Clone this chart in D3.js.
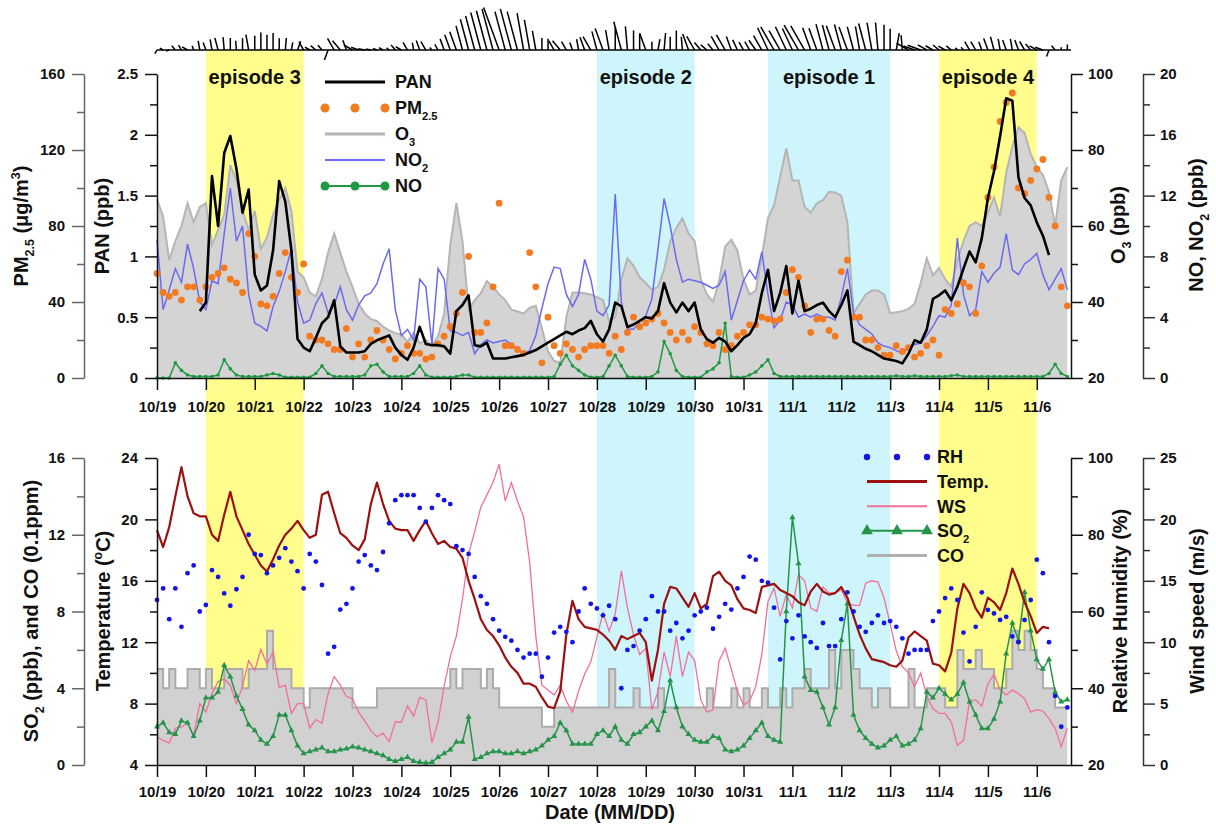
<!DOCTYPE html>
<html>
<head>
<meta charset="utf-8">
<script src="https://cdn.jsdelivr.net/npm/d3@7"></script>
<style>
  body { margin: 0; background: #fff; }
  text { font-family: Arial, "Liberation Sans", sans-serif; font-weight: bold; }
</style>
</head>
<body>
<svg id="chart" width="1216" height="830"></svg>
<script>
// samples every 3 h, time in days since 10/19 00:00
const step = 0.125;
const dayLabels = ["10/19","10/20","10/21","10/22","10/23","10/24","10/25","10/26","10/27","10/28",
                   "10/29","10/30","10/31","11/1","11/2","11/3","11/4","11/5","11/6"];

const episodeNames = ["episode 3", "episode 2", "episode 1", "episode 4"];
const episodeStart = [1, 9, 12.5, 16];
const episodeEnd = [3, 11, 15, 18];
const episodeKind = ["haze", "clean", "clean", "haze"];

// ---- upper panel ----
const o3Vals = [67,62.5,51,56,60,66,61,65, 66,55,59,63,76,72,64,59, 64,54,57,63,67,70,64,48,
  46.5,42.5,41.5,46,53,58,53,48, 44,39.5,37,35.5,35,33.5,32.5,31.8, 31.5,29.5,31.8,29.2,30,28.5,31,37,
  55,66,56,38,40.5,42.3,45.5,44, 42,40.5,38,37.5,37,38.5,39,33, 27,24.5,24,36,42.5,42.5,42.3,42,
  41.3,40.5,35,36,46,51.5,49.5,46.5, 45,43.2,44,48.5,56,59.5,62,58, 56,46,42,40,45.5,54.6,56.4,53.5,
  46,42,43,52,62,65.5,73,80.5, 72,72,65,63.5,66,66.8,69,68.8, 68,61,37.1,39.5,42,43,43,42,
  37.1,37.3,37.6,38.2,39.5,45,51.5,47, 49,46,44,51,56,60,61,60, 63.5,67.5,62.5,74,81,86,84.5,79,
  75.5,73.5,69,60,72,75.5];

const no2Vals = [9.1,4.5,5.8,7.2,6.3,8.8,7.2,5, 4.5,6.4,6.2,9.5,12.5,9,10,5.5, 3.6,3.4,3.1,4.7,5.7,7,8.5,5,
  3.6,3.8,4.9,5.6,4.3,4.8,6,4.5, 3.8,4.8,5.4,5.6,6.2,7.5,8.5,4.5, 2.8,3.2,2.5,6.5,6,2.2,7.2,6.5,
  3.1,3,2.8,3,1.6,2.2,2.5,2.3, 2.4,2.5,2.2,1.9,1.6,1.8,2.8,4.6, 6.2,7.3,7.2,5.5,4.7,5.5,7.8,6.5,
  4.4,4.1,4.8,12.1,5,3.2,3.2,3.7, 4.1,5.2,8.5,11.8,10,7.8,6.3,6.5, 6.4,6.3,6.1,5.9,6.1,7,3.8,5.1,
  6.4,7.1,6.5,8.3,5.5,3.3,3.8,5, 4.8,4,4.2,4,4.2,4,4,3.8, 5.3,7.2,4.3,3.5,3.2,2.9,2.3,2.1,
  2,1.8,1.6,2,2.2,2.3,2.8,3.4, 4.1,4,4.8,9.2,5.5,4.1,4.5,7, 6.3,6.9,7.3,9.5,7.1,6.8,7.5,7.8,
  8.2,6.8,5.8,6.5,7.2,5.8];

const noVals = [0,0,0,1.0,0.5,0.2,0.1,0.1, 0.1,0.1,0.2,1.2,0.6,0.2,0.1,0.1, 0.1,0.1,0.2,0.3,0.2,0.05,0.05,0.05,
  0.05,0.05,0.3,0.8,0.3,0.1,0.1,0.1, 0.1,0.1,0.2,0.8,0.9,0.4,0.1,0.1, 0.1,0.1,0.3,0.8,0.2,0.05,0.05,0.05,
  0.05,0.1,0.2,0.2,0.05,0.05,0.05,0.05, 0.05,0.05,0.05,0.05,0.05,0.05,0.05,0.05, 0.05,0.1,0.9,1.5,0.8,0.5,0.2,0.05,
  0.05,0.1,0.8,1.5,0.8,0.1,0.05,0.05, 0.05,0.1,0.4,2.4,1.6,0.5,0.1,0.05, 0.05,0.05,0.4,0.6,1.0,3.6,0.1,0.05,
  0.05,0.2,0.4,0.8,1.2,0.3,0.1,0.1, 0.1,0.1,0.1,0.1,0.1,0.1,0.1,0.1, 0.1,0.1,0.1,0.1,0.1,0.1,0.1,0.1,
  0.1,0.15,0.1,0.1,0.15,0.1,0.1,0.1, 0.1,0.1,0.15,0.2,0.1,0.1,0.1,0.1, 0.1,0.1,0.1,0.1,0.1,0.1,0.1,0.1,
  0.1,0.1,0.3,0.9,0.3,0.1];

const panStart = 7;
const panVals = [0.55, 0.62,1.66,1.25,1.85,1.99,1.72,1.36,1.55, 0.85,0.72,0.76,1.05,1.62,1.45,1.05,0.32,
  0.25,0.22,0.33,0.45,0.5,0.64,0.26,0.21, 0.21,0.21,0.22,0.28,0.31,0.33,0.35,0.25,
  0.19,0.15,0.25,0.42,0.28,0.27,0.27,0.26, 0.2,0.55,0.6,0.68,0.27,0.26,0.29,0.16,
  0.16,0.16,0.17,0.18,0.19,0.21,0.23,0.26, 0.29,0.32,0.35,0.38,0.36,0.39,0.41,0.47,
  0.36,0.3,0.4,0.62,0.59,0.42,0.44,0.47, 0.5,0.49,0.55,0.78,0.62,0.54,0.62,0.55,
  0.62,0.4,0.32,0.29,0.33,0.3,0.22,0.27, 0.33,0.36,0.45,0.7,0.89,0.55,0.7,0.92,
  0.53,0.8,0.55,0.57,0.6,0.62,0.55,0.5, 0.6,0.72,0.3,0.27,0.24,0.22,0.19,0.16,
  0.15,0.14,0.12,0.2,0.31,0.29,0.4,0.65, 0.68,0.72,0.64,0.75,0.9,1.04,0.95,1.15,
  1.48,1.7,1.99,2.3,2.28,1.65,1.48,1.42, 1.28,1.17,1.01];

const pmVals = [55,45,43,45,41,48,48,41, 48,53,55,58,52,50,45,76, 64,39,38,43,55,66,53,45,
  60,22,20,20,18,15,15,26, 11,18,11,20,25,20,15,10, 13,17,13,13,10,11,18,22,
  27,34,45,64,24,24,29,48, 92,17,17,15,13,66,48,8, 32,17,13,18,15,11,15,17,
  17,17,13,22,15,24,32,27, 29,31,34,29,24,20,24,20, 27,24,18,17,24,15,17,22,
  24,28,28,32,31,30,31,45, 57,53,38,24,31,31,25,22, 56,62,32,32,20,20,16,12,
  12,17,14,16,11,13,17,20, 12,36,34,39,50,48,34,59, 95,111,135,145,150,100,97,104,
  110,115,95,80,48,38];

// ---- lower panel ----
const tempVals = [19.3,18.2,19.5,21.5,23.4,21.5,20.4,20.2, 20.2,19.0,18.6,20.3,21.8,20.2,19.3,18.4,
  17.7,17.0,16.6,17.4,18.3,19.0,19.4,19.9, 19.3,18.8,19.0,21.6,21.8,20.4,19.1,18.8,
  18.3,18.0,18.7,21.0,22.4,21.0,19.9,19.4, 19.3,19.3,18.6,19.3,19.9,19.1,18.4,18.6,
  18.2,18.1,17.5,16.0,14.8,13.5,12.8,12.4, 11.8,11.0,10.4,10.0,9.3,9.3,9.1,8.4,
  7.8,7.7,8.8,12.5,14.7,13.5,13.0,12.9, 12.8,12.5,12.1,11.5,12.4,12.2,12.4,12.6,
  12.0,9.5,11.5,14.5,15.6,15.5,14.9,14.3, 15.2,14.2,14.5,16.3,16.6,16.0,15.7,14.8,
  14.2,14.1,13.9,15.6,15.7,15.8,15.4,15.2, 15.0,14.6,14.4,15.3,15.8,15.3,15.1,15.2,
  15.6,14.9,13.7,12.5,11.6,10.9,10.8,10.7, 10.5,10.4,10.8,12.3,12.7,12.4,12.1,10.6,
  10.5,10.1,11.3,14.2,15.8,15.2,14.2,13.6, 14.9,14.6,14.1,15.2,16.8,15.8,14.6,13.7,
  12.6,13.0,12.9];

const rhVals = [63,66,58,66,56,70,72,60, 61.7,70.8,69,64.7,61.5,65.8,69,80, 75,74.7,70,72,74,76.5,73,70.5,
  66,75,73,66.9,49,50.8,60.5,62, 66,73,74.7,72,70.8,75.5,83,89, 90.3,90.3,90.3,87,83.4,87,90.3,89,
  88,77,76,75,69,64,62,58, 55,53.4,52.4,50,48,49,49,43, 48,54.5,56,54.7,52,60,66,62,
  60.8,59,61.5,58,40,50,51,55, 58,64,60,60,55,57,53,55, 59,60,61,55.5,58.6,62,60.5,66,
  69,74.3,73.5,68,67.5,61,47.5,57.5, 53,59,53.5,52,50.5,57,51,51, 58,65,60,56,54.7,57,59,57,
  57.5,56,53,49,50,50,50,57.5, 60,63.5,66,63,54.5,47,56,65, 60.4,59.5,57.8,58.6,53.5,52,57.8,63,
  73.5,70,52,38,30,35];

const wsVals = [2.3,2.0,1.8,3.0,3.1,3.4,2.4,5.0, 4.3,5.8,6.8,7.0,6.5,5.0,6.4,8.5, 7.7,9.4,8.2,9.2,6.3,6.5,4.2,5.0,
  5.0,3.0,3.7,3.4,5.8,7.2,6.5,5.6, 5.4,4.3,3.6,2.8,2.3,2.6,1.9,3.5, 3.5,4.8,4.0,5.5,5.3,1.8,3.5,6.4,
  8.8,10.5,13.5,17.2,19.0,21.0,22.0,23.0, 24.5,21.5,23.0,21.5,20.2,16.5,10.5,6.5, 6.1,5.7,6.5,5.2,4.3,6.0,7.4,8.4,
  10.4,12.4,10.9,12.3,15.8,12.8,10.6,9.0, 9.5,4.5,6.0,9.2,7.2,10.5,7.2,9.2, 8.5,5.3,4.3,4.5,8.5,9.5,7.8,6.0,
  4.9,5.2,6.4,9.0,13.3,14.4,12.1,13.9, 12.8,15.5,15.0,12.8,12.5,14.5,14.0,14.0, 14.3,13.2,13.0,13.0,14.8,15.0,14.9,13.6,
  11.5,9.3,8.0,7.5,6.4,7.5,5.6,4.6, 4.2,4.2,3.5,1.6,2.0,5.2,5.3,4.8, 6.6,7.4,6.1,5.7,6.1,5.8,5.4,4.3,
  4.5,4.4,3.8,3.0,1.5,3.0];

// wind direction of the sticks, degrees clockwise from straight up
const windDir = [210,300,250,320,330,300,340,350, 340,350,345,355,0,355,0,350, 0,0,0,0,0,5,10,20,
  330,300,310,320,200,330,320,340, 300,290,280,280,290,300,310,320, 300,330,350,340,330,320,330,340,
  340,340,345,345,345,345,345,345, 340,345,345,345,350,350,350,0, 0,330,320,330,340,350,340,330,
  345,340,350,0,345,355,0,0, 340,0,10,5,0,0,355,340, 330,320,310,320,330,330,340,335,
  330,330,325,330,335,330,330,335, 335,330,330,340,340,345,345,340, 345,340,345,350,345,350,355,0,
  0,10,355,300,290,290,300,300, 310,300,310,320,320,330,330,340, 340,345,350,340,350,340,330,320,
  300,290,200,320,0,0];

const so2Vals = [2.0,2.2,1.7,1.6,2.3,2.2,1.5,2.3, 3.5,3.5,3.8,5.2,4.6,3.6,2.9,2.1, 1.8,1.3,1.1,1.5,2.6,2.6,1.8,1.0,
  0.6,0.7,0.8,0.9,0.7,0.7,0.8,0.85, 0.95,0.9,0.8,0.7,0.6,0.5,0.3,0.2, 0.3,0.4,0.2,0.15,0.1,0.15,0.4,0.6,
  0.8,1.2,1.2,2.5,0.3,0.4,0.6,0.7, 0.7,0.6,0.6,0.7,0.6,0.7,0.8,1.0, 1.3,1.5,2.2,1.8,1.1,1.1,1.1,1.1,
  1.6,1.8,1.5,2.0,1.3,1.1,1.6,1.7, 2.0,2.3,1.8,2.8,4.4,3.0,2.0,1.6, 1.3,1.2,1.2,1.5,1.4,0.8,0.7,0.8,
  1.0,1.4,1.8,2.2,1.5,1.3,1.2,8.0, 12.9,10.5,4.6,3.9,3.8,3.0,2.1,3.0, 6.5,8.4,2.6,1.8,1.4,1.1,0.9,1.0,
  1.3,1.5,1.0,1.1,1.3,1.9,3.8,3.5, 4.0,3.7,3.4,3.7,4.3,3.3,2.6,1.9, 1.9,2.4,3.3,5.8,7.4,6.5,9.0,7.0,
  5.5,5.0,5.5,3.8,3.3,3.4];

// CO in units of 0.1 ppm
const coVals = [5,4,5,4,4,5,5,4, 5,4,4,5,5,5,4,5, 5,5,7,5,5,5,4,4, 3,4,4,4,4,4,4,4,
  3,3,3,3,4,4,4,4, 4,4,4,4,4,4,4,4, 5,4,5,5,5,4,5,4, 3,3,3,3,3,3,3,2,
  2,3,3,3,3,3,3,3, 3,3,5,3,3,3,4,3, 3,3,4,3,3,3,3,3, 3,3,4,3,3,3,4,3,
  4,3,3,4,3,3,4,3, 4,4,5,4,4,4,6,4, 6,6,5,4,4,3,4,4, 3,3,3,5,3,3,4,4,
  4,3,3,6,5,5,6,5, 5,4,4,5,7,6,7,6, 5,4,4,3,3,3];

const topLegend = ["PAN", "PM2.5", "O3", "NO2", "NO"];
const botLegend = ["RH", "Temp.", "WS", "SO2", "CO"];

// ---------------------------------------------------------------
const svg = d3.select("#chart");
const pts = (vals, start = 0) => vals.map((v, i) => ({t: (start + i) * step, v}));

const x = d3.scaleLinear().domain([0, 18.7]).range([157, 1071]);

const yPAN = d3.scaleLinear().domain([0, 2.5]).range([378, 74]);
const yPM = d3.scaleLinear().domain([0, 160]).range([378, 74]);
const yO3 = d3.scaleLinear().domain([20, 100]).range([378, 74]);
const yNOx = d3.scaleLinear().domain([0, 20]).range([378, 74]);

const yT = d3.scaleLinear().domain([4, 24]).range([765, 458]);
const ySO2 = d3.scaleLinear().domain([0, 16]).range([765, 458]);
const yRH = d3.scaleLinear().domain([20, 100]).range([765, 458]);
const yWS = d3.scaleLinear().domain([0, 25]).range([765, 458]);

const bandColor = {haze: "#fffe8c", clean: "#cdf5fb"};

// episode bands run through both panels
svg.append("g").selectAll("rect")
  .data(episodeNames)
  .join("rect")
  .attr("x", (d, i) => x(episodeStart[i]))
  .attr("width", (d, i) => x(episodeEnd[i]) - x(episodeStart[i]))
  .attr("y", 51)
  .attr("height", 765 - 51)
  .attr("fill", (d, i) => bandColor[episodeKind[i]]);

svg.append("g").selectAll("text")
  .data(episodeNames)
  .join("text")
  .attr("x", (d, i) => x((episodeStart[i] + episodeEnd[i]) / 2))
  .attr("y", 84)
  .attr("text-anchor", "middle")
  .attr("font-size", 20)
  .attr("fill", "#111")
  .text(d => d);

// wind sticks
const stickBase = 50, stickScale = 1.85;
svg.append("line")
  .attr("x1", x(0)).attr("x2", x(18.7))
  .attr("y1", stickBase).attr("y2", stickBase)
  .attr("stroke", "#000").attr("stroke-width", 1.5);
svg.append("g").selectAll("line")
  .data(wsVals)
  .join("line")
  .attr("x1", (d, i) => x(i * step))
  .attr("y1", stickBase)
  .attr("x2", (d, i) => x(i * step) + d * stickScale * Math.sin(windDir[i] * Math.PI / 180))
  .attr("y2", (d, i) => stickBase - d * stickScale * Math.cos(windDir[i] * Math.PI / 180))
  .attr("stroke", "#000")
  .attr("stroke-width", 1.5);

// ---- upper panel marks ----
const o3 = pts(o3Vals);
svg.append("path").datum(o3)
  .attr("fill", "#d4d4d4")
  .attr("d", d3.area().x(d => x(d.t)).y0(yO3(20)).y1(d => yO3(d.v)));
svg.append("path").datum(o3)
  .attr("fill", "none").attr("stroke", "#b5b5b5").attr("stroke-width", 2)
  .attr("d", d3.line().x(d => x(d.t)).y(d => yO3(d.v)));

const no = pts(noVals);
svg.append("path").datum(no)
  .attr("fill", "none").attr("stroke", "#1f9a42").attr("stroke-width", 1.5)
  .attr("d", d3.line().x(d => x(d.t)).y(d => yNOx(d.v)));
svg.append("g").selectAll("circle").data(no).join("circle")
  .attr("cx", d => x(d.t)).attr("cy", d => yNOx(d.v)).attr("r", 1.8)
  .attr("fill", "#1f9a42");

svg.append("path").datum(pts(no2Vals))
  .attr("fill", "none").attr("stroke", "#6a6af0").attr("stroke-width", 1.5)
  .attr("d", d3.line().x(d => x(d.t)).y(d => yNOx(d.v)));

svg.append("g").selectAll("circle").data(pts(pmVals)).join("circle")
  .attr("cx", d => x(d.t)).attr("cy", d => yPM(d.v)).attr("r", 3.4)
  .attr("fill", "#f47a20");

svg.append("path").datum(pts(panVals, panStart))
  .attr("fill", "none").attr("stroke", "#000").attr("stroke-width", 2.6)
  .attr("stroke-linejoin", "round")
  .attr("d", d3.line().x(d => x(d.t)).y(d => yPAN(d.v)));

// ---- lower panel marks ----
const co = pts(coVals);
svg.append("path").datum(co)
  .attr("fill", "#d1d1d1")
  .attr("d", d3.area().curve(d3.curveStepAfter).x(d => x(d.t)).y0(ySO2(0)).y1(d => ySO2(d.v)));
svg.append("path").datum(co)
  .attr("fill", "none").attr("stroke", "#ababab").attr("stroke-width", 2)
  .attr("d", d3.line().curve(d3.curveStepAfter).x(d => x(d.t)).y(d => ySO2(d.v)));

svg.append("path").datum(pts(wsVals))
  .attr("fill", "none").attr("stroke", "#f26f9a").attr("stroke-width", 1.3)
  .attr("d", d3.line().x(d => x(d.t)).y(d => yWS(d.v)));

const so2 = pts(so2Vals);
svg.append("path").datum(so2)
  .attr("fill", "none").attr("stroke", "#24944a").attr("stroke-width", 1.5)
  .attr("d", d3.line().x(d => x(d.t)).y(d => ySO2(d.v)));
const tri = d3.symbol(d3.symbolTriangle).size(16);
svg.append("g").selectAll("path").data(so2).join("path")
  .attr("transform", d => `translate(${x(d.t)},${ySO2(d.v)})`)
  .attr("d", tri).attr("fill", "#24944a");

svg.append("path").datum(pts(tempVals))
  .attr("fill", "none").attr("stroke", "#9c1010").attr("stroke-width", 2.2)
  .attr("stroke-linejoin", "round")
  .attr("d", d3.line().x(d => x(d.t)).y(d => yT(d.v)));

svg.append("g").selectAll("circle").data(pts(rhVals)).join("circle")
  .attr("cx", d => x(d.t)).attr("cy", d => yRH(d.v)).attr("r", 2.4)
  .attr("fill", "#1414e6");

// ---- axes ----
function yAxis(scale, xPos, side, major, minor, color, fmt) {
  const mk = side === "left" ? d3.axisLeft : d3.axisRight;
  const gMinor = svg.append("g").attr("transform", `translate(${xPos},0)`)
    .call(mk(scale).tickValues(minor).tickSize(7).tickSizeOuter(0).tickFormat(""));
  gMinor.select(".domain").remove();
  gMinor.selectAll("line").attr("stroke", color).attr("stroke-width", 1.5);
  const g = svg.append("g").attr("transform", `translate(${xPos},0)`)
    .call(mk(scale).tickValues(major).tickSize(12).tickSizeOuter(0)
      .tickPadding(side === "left" ? 7 : 5).tickFormat(fmt || (d => String(d))));
  g.select(".domain").attr("stroke", color).attr("stroke-width", 1.5);
  g.selectAll("line").attr("stroke", color).attr("stroke-width", 1.5);
  g.selectAll("text").attr("font-size", 15).attr("fill", "#111")
    .attr("font-family", 'Arial, "Liberation Sans", sans-serif');
}

yAxis(yPM, 84, "left", [0, 40, 80, 120, 160], [20, 60, 100, 140], "#666");
yAxis(yPAN, 157, "left", [0, 0.5, 1, 1.5, 2, 2.5], [0.25, 0.75, 1.25, 1.75, 2.25], "#111");
yAxis(yO3, 1071, "right", [20, 40, 60, 80, 100], [30, 50, 70, 90], "#111");
yAxis(yNOx, 1143, "right", [0, 4, 8, 12, 16, 20], [2, 6, 10, 14, 18], "#333");

yAxis(ySO2, 84, "left", [0, 4, 8, 12, 16], [2, 6, 10, 14], "#666");
yAxis(yT, 157, "left", [4, 8, 12, 16, 20, 24], [6, 10, 14, 18, 22], "#111");
yAxis(yRH, 1071, "right", [20, 40, 60, 80, 100], [30, 50, 70, 90], "#111");
yAxis(yWS, 1143, "right", [0, 5, 10, 15, 20, 25], [2.5, 7.5, 12.5, 17.5, 22.5], "#333");

function xAxis(yPos, pad) {
  const g = svg.append("g").attr("transform", `translate(0,${yPos})`)
    .call(d3.axisBottom(x).tickValues(d3.range(dayLabels.length)).tickSize(12).tickSizeOuter(0)
      .tickPadding(pad).tickFormat(i => dayLabels[i]));
  g.select(".domain").attr("stroke", "#111").attr("stroke-width", 1.5);
  g.selectAll("line").attr("stroke", "#111").attr("stroke-width", 1.5);
  g.selectAll("text").attr("font-size", 15).attr("fill", "#111")
    .attr("font-family", 'Arial, "Liberation Sans", sans-serif');
}
xAxis(378, 11);
xAxis(765, 9);

// ---- titles with sub/superscripts ----
function rich(sel, parts, size) {
  let shift = 0;
  parts.forEach(([s, k]) => {
    const t = sel.append("tspan").text(s);
    const target = k === "sub" ? size * 0.3 : k === "sup" ? -size * 0.4 : 0;
    if (target - shift !== 0) t.attr("dy", target - shift);
    if (k) t.attr("font-size", size * 0.62);
    shift = target;
  });
}

function vTitle(cx, cy, parts) {
  const t = svg.append("text")
    .attr("transform", `translate(${cx},${cy}) rotate(-90)`)
    .attr("y", 20 * 0.35)
    .attr("text-anchor", "middle")
    .attr("font-size", 20)
    .attr("fill", "#111");
  rich(t, parts, 20);
}

vTitle(21, 226, [["PM"], ["2.5", "sub"], [" (\u03bcg/m"], ["3", "sup"], [")"]]);
vTitle(102, 226, [["PAN (ppb)"]]);
vTitle(1118, 225, [["O"], ["3", "sub"], [" (ppb)"]]);
vTitle(1196, 225, [["NO, NO"], ["2", "sub"], [" (ppb)"]]);
vTitle(31, 611, [["SO"], ["2", "sub"], [" (ppb), and CO (0.1ppm)"]]);
vTitle(103, 611, [["Temperature ("], ["o", "sup"], ["C)"]]);
vTitle(1120, 611, [["Relative Humidity (%)"]]);
vTitle(1197, 611, [["Wind speed (m/s)"]]);

svg.append("text")
  .attr("x", 610).attr("y", 819)
  .attr("text-anchor", "middle")
  .attr("font-size", 20)
  .attr("fill", "#111")
  .text("Date (MM/DD)");

// ---- legends ----
const subParts = {
  "PM2.5": [["PM"], ["2.5", "sub"]], "O3": [["O"], ["3", "sub"]],
  "NO2": [["NO"], ["2", "sub"]], "SO2": [["SO"], ["2", "sub"]]
};

function legend(names, lx0, lx1, tx, y0, gap, draw) {
  names.forEach((name, i) => {
    const cy = y0 + i * gap;
    draw(name, cy, lx0, lx1);
    const t = svg.append("text").attr("x", tx).attr("y", cy + 18 * 0.35)
      .attr("font-size", 18).attr("fill", "#111");
    rich(t, subParts[name] || [[name]], 18);
  });
}

function sampleLine(cy, a, b, color, w) {
  svg.append("line").attr("x1", a).attr("x2", b).attr("y1", cy).attr("y2", cy)
    .attr("stroke", color).attr("stroke-width", w);
}
function sampleDots(cy, a, b, color, r) {
  [a, (a + b) / 2, b].forEach(px =>
    svg.append("circle").attr("cx", px).attr("cy", cy).attr("r", r).attr("fill", color));
}

legend(topLegend, 325, 385, 395, 82, 26, (name, cy, a, b) => {
  if (name === "PAN") sampleLine(cy, a, b, "#000", 3);
  if (name === "PM2.5") sampleDots(cy, a, b, "#f47a20", 4.5);
  if (name === "O3") sampleLine(cy, a, b, "#b5b5b5", 3);
  if (name === "NO2") sampleLine(cy, a, b, "#6a6af0", 2);
  if (name === "NO") { sampleLine(cy, a, b, "#1f9a42", 2); sampleDots(cy, a, b, "#1f9a42", 4.5); }
});

legend(botLegend, 867, 927, 937, 457, 24.6, (name, cy, a, b) => {
  if (name === "RH") sampleDots(cy, a, b, "#1414e6", 3.2);
  if (name === "Temp.") sampleLine(cy, a, b, "#9c1010", 3);
  if (name === "WS") sampleLine(cy, a, b, "#f26f9a", 2);
  if (name === "SO2") {
    sampleLine(cy, a, b, "#24944a", 2);
    [a, (a + b) / 2, b].forEach(px => svg.append("path")
      .attr("transform", `translate(${px},${cy})`)
      .attr("d", d3.symbol(d3.symbolTriangle).size(60)).attr("fill", "#24944a"));
  }
  if (name === "CO") sampleLine(cy, a, b, "#b0b0b0", 3);
});
</script>
</body>
</html>
